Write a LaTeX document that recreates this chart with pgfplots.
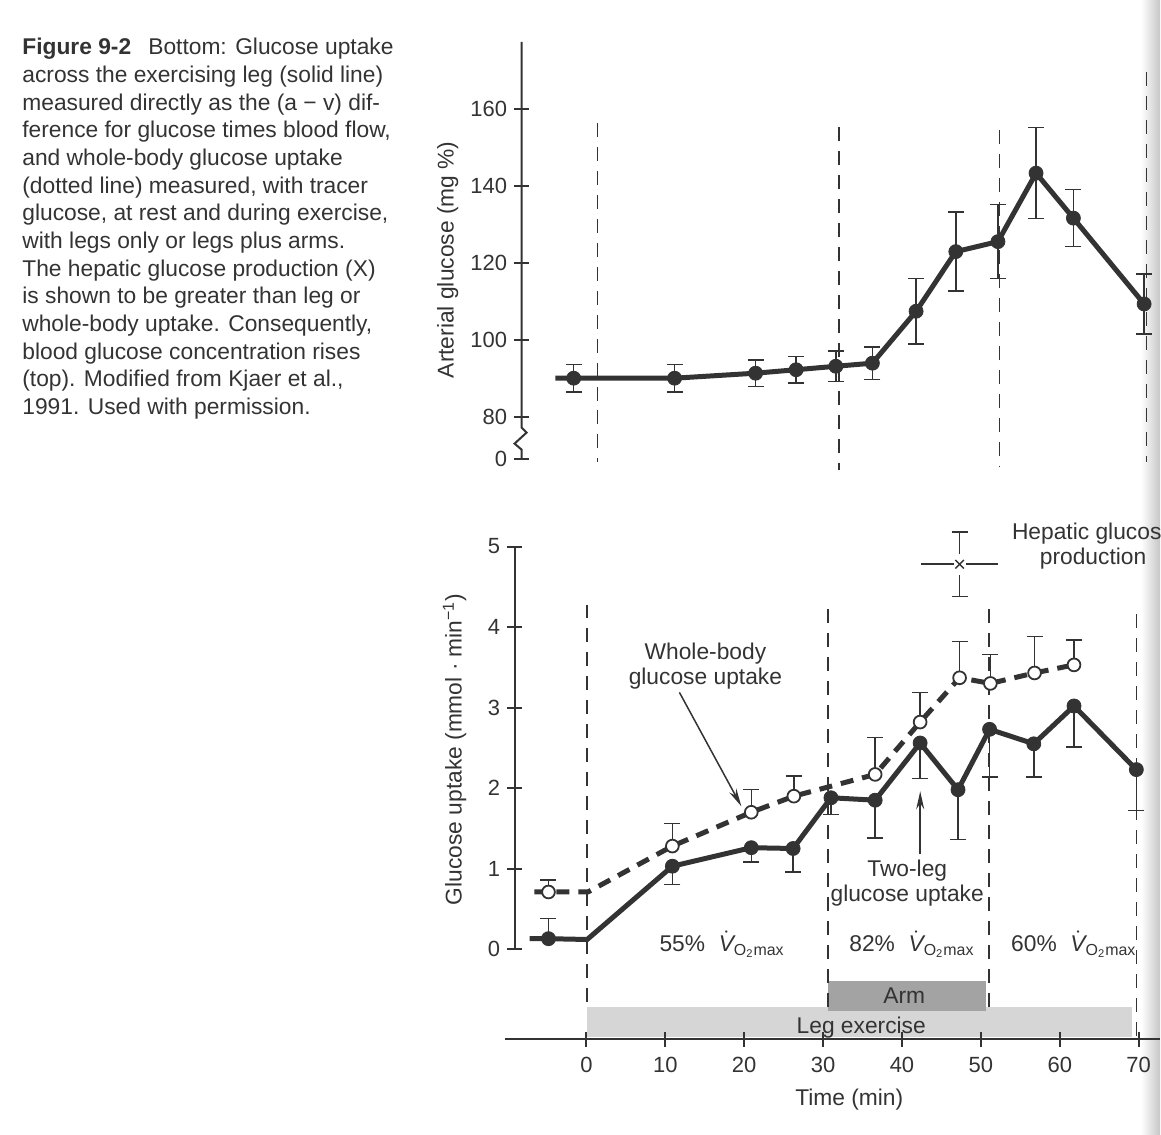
\documentclass[border=0pt]{standalone}
\usepackage{fontspec}
\setmainfont{Liberation Sans}
\usepackage{pgfplots}
\pgfplotsset{compat=1.18}
\usetikzlibrary{arrows.meta}
\definecolor{ink}{gray}{0.2}
\definecolor{legband}{gray}{0.84}
\definecolor{armband}{gray}{0.64}
\newcommand\vo{$\dot{\hbox{\itshape V}}$\textsubscript{O\textsubscript{2}max}}

\pgfplotsset{
  fig/.style={scale only axis, anchor=south west, clip=false,
    tick align=inside, major tick length=7.5pt,
    tick style={ink, line width=1pt},
    axis line style={draw=none},
    ticklabel style={font=\fontsize{11}{13}\selectfont, text=ink},
    /pgf/number format/assume math mode=true},
  bars/.style={/pgfplots/error bars/y explicit,
    /pgfplots/error bars/error bar style={ink, line width=0.75pt, solid},
    /pgfplots/error bars/error mark options={ink, rotate=90, mark size=4pt, line width=0.75pt, solid}},
  dot/.style={ink, only marks, mark=*, mark size=3.5pt, mark options={fill=ink, draw=ink}},
  ring/.style={ink, only marks, mark=*, mark size=3.2pt, mark options={fill=white, draw=ink, line width=0.9pt, solid}},
}

\begin{document}
\begin{tikzpicture}[font=\fontsize{11.4}{13.85}\selectfont]
\begin{scope}[x=0.5pt, y=0.5pt]
\path (0,0) rectangle (1161,1135);
\shade[left color=white, right color=gray!45] (1142,0) rectangle (1161,1135);

% caption
\node[anchor=north west, align=left, inner sep=0pt, text=ink] at (22,1097) {%
\textbf{Figure 9-2}\hspace{0.75em}Bottom: Glucose uptake\\
across the exercising leg (solid line)\\
measured directly as the (a − v) dif-\\
ference for glucose times blood flow,\\
and whole-body glucose uptake\\
(dotted line) measured, with tracer\\
glucose, at rest and during exercise,\\
with legs only or legs plus arms.\\
The hepatic glucose production (X)\\
is shown to be greater than leg or\\
whole-body uptake. Consequently,\\
blood glucose concentration rises\\
(top). Modified from Kjaer et al.,\\
1991. Used with permission.};

% exercise bands
\fill[legband] (587,97) rectangle (1133,127);
\fill[armband] (829,123) rectangle (987,153);
\end{scope}

% top: arterial glucose
\begin{axis}[fig, at={(261pt,338pt)}, width=319.5pt, height=208.5pt,
  xmin=-9.56, xmax=70.8, ymin=69.1, ymax=177.4,
  axis x line=none, axis y line=left, xtick=\empty,
  ytick={69.1,80,100,120,140,160}, yticklabels={0,80,100,120,140,160}]
\draw[ink, line width=0.75pt, dash pattern=on 7pt off 5pt] (axis cs:0,156.4) -- (axis cs:0,68.3);
\draw[ink, line width=0.75pt, dash pattern=on 7pt off 5pt] (axis cs:30.4,155.3) -- (axis cs:30.4,66.2);
\draw[ink, line width=0.75pt, dash pattern=on 7pt off 5pt] (axis cs:50.6,154.5) -- (axis cs:50.6,66.8);
\draw[ink, line width=0.75pt, dash pattern=on 7pt off 5pt] (axis cs:69.1,169.6) -- (axis cs:69.1,68.3);
\addplot[ink, line width=2.5pt, mark=none] coordinates {
  (-5.3,90.0) (-3.0,90.0) (9.7,90.0) (19.9,91.3) (25.0,92.2) (30.0,93.1) (34.6,93.9)
  (40.1,107.4) (45.1,122.9) (50.4,125.5) (55.2,143.3) (59.9,131.6) (68.8,109.3)};
\addplot[dot, bars, error bars/y dir=both] coordinates {
  (-3.0,90.0) +- (0,3.6)  (9.7,90.0) +- (0,3.6)  (19.9,91.3) +- (0,3.4)
  (25.0,92.2) +- (0,3.4)  (30.0,93.1) +- (0,4.0)  (34.6,93.9) +- (0,4.2)
  (40.1,107.4) +- (0,8.5) (45.1,122.9) +- (0,10.3) (50.4,125.5) +- (0,9.6)
  (55.2,143.3) +- (0,11.8) (59.9,131.6) +- (0,7.4) (68.8,109.3) +- (0,7.8)};
\end{axis}

% bottom: glucose uptake
\begin{axis}[fig, at={(257.5pt,47.5pt)}, width=323pt, height=246.5pt,
  xmin=-9.1, xmax=72.7, ymin=-1.117, ymax=5,
  axis x line=bottom, axis y line=left,
  xtick={0,10,...,70}, xticklabels={0,10,20,30,40,50,60,70},
  ytick={0,...,5}, yticklabels={0,1,2,3,4,5},
  x tick label style={yshift=-1.5pt}]
\draw[ink, line width=0.75pt, dash pattern=on 7pt off 5pt] (axis cs:0.1,4.28) -- (axis cs:0.1,-0.72);
\draw[ink, line width=0.75pt, dash pattern=on 7pt off 5pt] (axis cs:30.6,4.22) -- (axis cs:30.6,-0.77);
\draw[ink, line width=0.75pt, dash pattern=on 7pt off 5pt] (axis cs:51.0,4.22) -- (axis cs:51.0,-0.77);
\draw[ink, line width=0.75pt, dash pattern=on 7pt off 5pt] (axis cs:69.7,4.16) -- (axis cs:69.7,-1.09);
% whole-body uptake (dashed, open circles)
\addplot[ink, line width=2.5pt, dash pattern=on 6.5pt off 4.5pt, mark=none] coordinates {
  (-6.6,0.71) (-4.8,0.71) (0.2,0.71) (10.9,1.28) (20.9,1.70) (26.3,1.90) (36.6,2.17)
  (42.3,2.82) (47.3,3.37) (51.2,3.30) (56.8,3.43) (61.8,3.53)};
\addplot[ring, bars, error bars/y dir=plus] coordinates {
  (-4.8,0.71) +- (0,0.15) (10.9,1.28) +- (0,0.28) (20.9,1.70) +- (0,0.28)
  (26.3,1.90) +- (0,0.25) (36.6,2.17) +- (0,0.46) (42.3,2.82) +- (0,0.37)
  (47.3,3.37) +- (0,0.45) (51.2,3.30) +- (0,0.36) (56.8,3.43) +- (0,0.45)
  (61.8,3.53) +- (0,0.31)};
% two-leg uptake (solid, filled circles)
\addplot[ink, line width=2.5pt, mark=none] coordinates {
  (-7.2,0.13) (-4.8,0.13) (0.1,0.12) (10.9,1.03) (20.9,1.26) (26.2,1.25) (31.0,1.88)
  (36.6,1.85) (42.3,2.56) (47.1,1.98) (51.1,2.73) (56.7,2.55) (61.8,3.02) (69.7,2.23)};
\addplot[dot, bars, error bars/y dir=plus] coordinates {(-4.8,0.13) +- (0,0.25)};
\addplot[dot, bars, error bars/y dir=minus] coordinates {
  (10.9,1.03) +- (0,0.23) (20.9,1.26) +- (0,0.18) (26.2,1.25) +- (0,0.29)
  (31.0,1.88) +- (0,0.21) (36.6,1.85) +- (0,0.47) (42.3,2.56) +- (0,0.44)
  (47.1,1.98) +- (0,0.62) (51.1,2.73) +- (0,0.59) (56.7,2.55) +- (0,0.41)
  (61.8,3.02) +- (0,0.51) (69.7,2.23) +- (0,0.51)};
% hepatic glucose production
\addplot[ink, only marks, mark=none, bars, error bars/y dir=both] coordinates {(47.3,4.78) +- (0,0.40)};
\addplot[ink, only marks, mark=none,
  error bars/x dir=both, error bars/x explicit, error bars/error mark=none,
  error bars/error bar style={ink, line width=0.75pt}] coordinates {(47.3,4.78) +- (4.85,0)};
\addplot[only marks, mark=square*, mark size=5pt, mark options={white, xscale=0.55}] coordinates {(47.3,4.78)};
\addplot[ink, only marks, mark=x, mark size=3pt, mark options={line width=0.75pt}] coordinates {(47.3,4.78)};
\end{axis}

\begin{scope}[x=0.5pt, y=0.5pt]
\draw[ink, line width=1pt] (522,1093) -- (522,707) -- (527,702) -- (515,691) -- (522,685) -- (522,676);
\draw[ink, line width=1pt] (505,95) -- (1161,95);
\draw[ink, line width=1pt] (515,185) -- (515,588);

% labels and annotations
\node[rotate=90, text=ink] at (448,875) {Arterial glucose (mg \%)};
\node[rotate=90, text=ink] at (455,385) {Glucose uptake (mmol · min\textsuperscript{−1})};
\node[text=ink] at (850,34) {Time (min)};
\node[text=ink] at (905,138) {Arm};
\node[text=ink] at (862,107) {Leg exercise};
\node[align=center, text=ink, font=\fontsize{11.4}{12.5}\selectfont] at (706,468) {Whole-body\\glucose uptake};
\node[align=center, text=ink, font=\fontsize{11.4}{12.5}\selectfont] at (908,251) {Two-leg\\glucose uptake};
\node[overlay, align=center, text=ink, font=\fontsize{11.4}{12.5}\selectfont] at (1094,588) {Hepatic glucose\\production};
\node[anchor=west, text=ink] at (653,190) {55\%\hspace{0.6em}\vo};
\node[anchor=west, text=ink] at (843,190) {82\%\hspace{0.6em}\vo};
\node[anchor=west, text=ink] at (1005,190) {60\%\hspace{0.6em}\vo};
\draw[ink, line width=0.75pt, -{Stealth[length=9pt, width=4pt]}] (680,442) -- (742,328);
\draw[ink, line width=0.75pt, -{Stealth[length=9pt, width=4pt]}] (921,280) -- (921,343);
\end{scope}
\end{tikzpicture}
\end{document}
